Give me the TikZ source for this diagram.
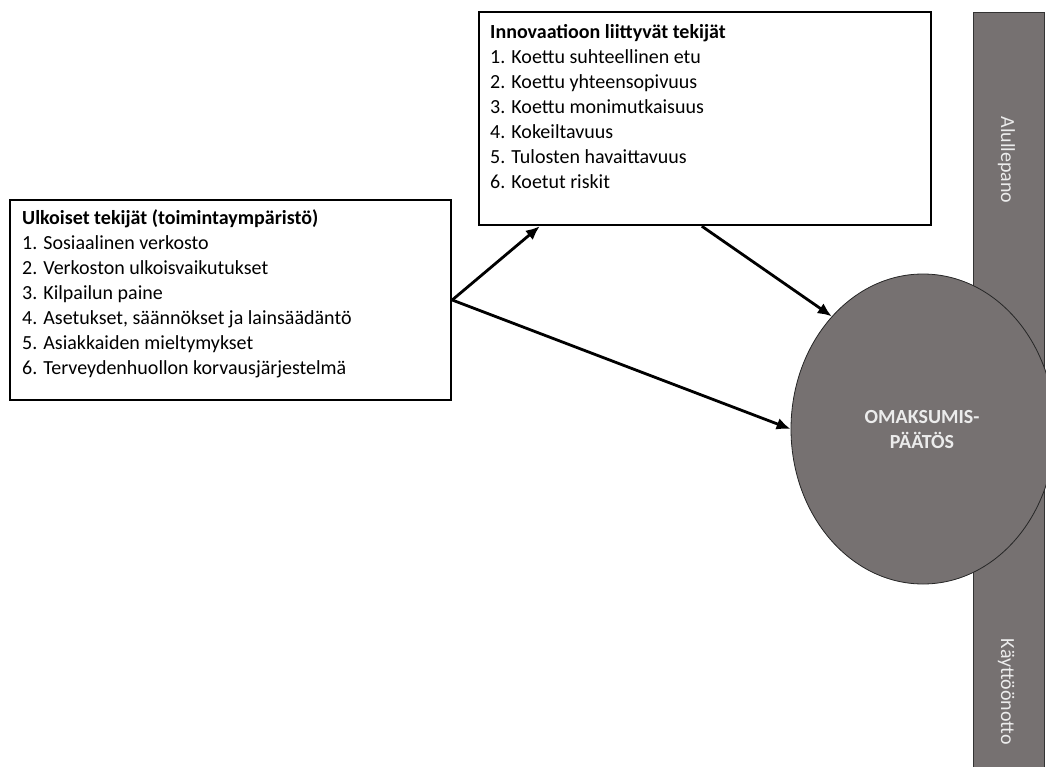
\documentclass[tikz,border=0pt]{standalone}
\usepackage{fontspec}
\setmainfont{Carlito}
\usetikzlibrary{arrows.meta,shapes.geometric}
\definecolor{dg}{RGB}{118,113,113}
\definecolor{lt}{RGB}{236,236,236}
\begin{document}
\begin{tikzpicture}[x=1pt,y=-1pt,
  box/.style={draw=black, line width=2.4pt, fill=white, rectangle, inner sep=0},
  boxtext/.style={anchor=north west, inner sep=0, align=left, font=\fontsize{20}{25}\selectfont, text=black},
  arr/.style={line width=2.8pt, -{Latex[length=14pt,width=12pt]}},
  barlabel/.style={rotate=-90, anchor=base, inner sep=0, text=lt, font=\fontsize{20}{24}\selectfont},
]
\useasboundingbox (0,0) rectangle (1046,767);
% vertical bar
\node[draw=black!80, line width=0.8pt, fill=dg, minimum width=71pt, minimum height=770pt, anchor=north west, inner sep=0] (bar) at (973,12) {};
\node[barlabel] (alku) at (1001,160) {Alullepano};
\node[barlabel] (kaytto) at (1001,692) {Käyttöönotto};
% decision ellipse
\node[ellipse, draw=black!85, line width=0.8pt, fill=dg, minimum width=264pt, minimum height=310pt, inner sep=0] (dec) at (923,429) {};
\node[align=center, inner sep=0, text=lt, font=\fontsize{20}{25}\selectfont\bfseries] (dectext) at (922,430) {OMAKSUMIS-\\PÄÄTÖS};
% boxes
\node[box, minimum width=441pt, minimum height=200pt] (lbox) at (230.5,300) {};
\node[boxtext] (ltext) at (22,208) {\rule{0pt}{16pt}\textbf{Ulkoiset tekijät (toimintaympäristö)}\\
1. Sosiaalinen verkosto\\
2. Verkoston ulkoisvaikutukset\\
3. Kilpailun paine\\
4. Asetukset, säännökset ja lainsäädäntö\\
5. Asiakkaiden mieltymykset\\
6. Terveydenhuollon korvausjärjestelmä};
\node[box, minimum width=452pt, minimum height=213pt] (tbox) at (705,118.5) {};
\node[boxtext] (ttext) at (490,22) {\rule{0pt}{16pt}\textbf{Innovaatioon liittyvät tekijät}\\
1. Koettu suhteellinen etu\\
2. Koettu yhteensopivuus\\
3. Koettu monimutkaisuus\\
4. Kokeiltavuus\\
5. Tulosten havaittavuus\\
6. Koetut riskit};
% arrows
\draw[arr] (lbox.east) -- ([xshift=62pt]tbox.south west);
\draw[arr] (lbox.east) -- (dec.west);
\draw[arr] ([xshift=224pt]tbox.south west) -- (dec.129);
\end{tikzpicture}
\end{document}
